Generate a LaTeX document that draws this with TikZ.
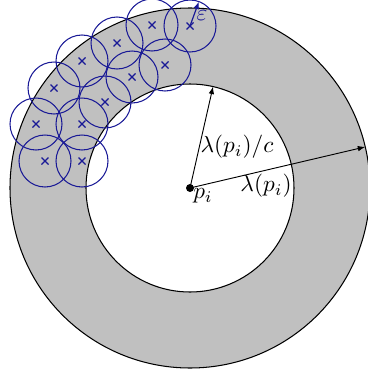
\documentclass[tikz,border=0pt]{standalone}
\usetikzlibrary{arrows.meta,calc}
\definecolor{ringgray}{RGB}{192,192,192}
\definecolor{navyblue}{RGB}{25,25,150}
\begin{document}
\begin{tikzpicture}[x=0.43pt,y=0.43pt,
  cover/.style={draw=navyblue,line width=0.45pt},
  crossmark/.style={navyblue,line width=0.6pt},
  radarrow/.style={-{Latex[length=3.2pt,width=2.4pt]},line width=0.4pt}]
\useasboundingbox (0,0) rectangle (367,-378);
% annulus
\coordinate (pc) at (190,-188);
\fill[ringgray,even odd rule] (pc) circle[radius=180*0.43pt] (pc) circle[radius=104*0.43pt];
\draw[line width=0.45pt] (pc) circle[radius=180*0.43pt];
\draw[line width=0.45pt] (pc) circle[radius=104*0.43pt];
% covering points
\foreach \n/\x/\y in {c1/190/26,c2/152/25,c3/117/43,c4/165/65,c5/132/77,c6/82/61,
  c7/54/88,c8/105/102,c9/36/124,c10/82/124,c11/45/161,c12/82/161}{
  \coordinate (\n) at (\x,-\y);
  \draw[cover] (\n) circle[radius=26*0.43pt];
}
\foreach \n in {c1,c2,c3,c4,c5,c6,c7,c8,c9,c10,c11,c12}{
  \draw[crossmark] ($(\n)+(-3.5,-3.5)$) -- ($(\n)+(3.5,3.5)$);
  \draw[crossmark] ($(\n)+(-3.5,3.5)$) -- ($(\n)+(3.5,-3.5)$);
}
% epsilon arrow
\coordinate (eps) at ($(c1)+(70:26)$);
\draw[radarrow,navyblue,line width=0.5pt] (c1) -- (eps);
\node[navyblue,inner sep=0pt] (epslabel) at (202,-15) {$\varepsilon$};
% radius arrows
\coordinate (outer) at ($(pc)+(13.2:180)$);
\coordinate (inner) at ($(pc)+(77.2:104)$);
\draw[radarrow] (pc) -- (outer);
\draw[radarrow] (pc) -- (inner);
\fill (pc) circle[radius=4*0.43pt];
\node[inner sep=0pt] (lc) at (237,-147) {$\lambda(p_i)/c$};
\node[inner sep=0pt] (l) at (266,-186) {$\lambda(p_i)$};
\node[inner sep=0pt] (p) at (203,-196) {$p_i$};
\end{tikzpicture}
\end{document}
